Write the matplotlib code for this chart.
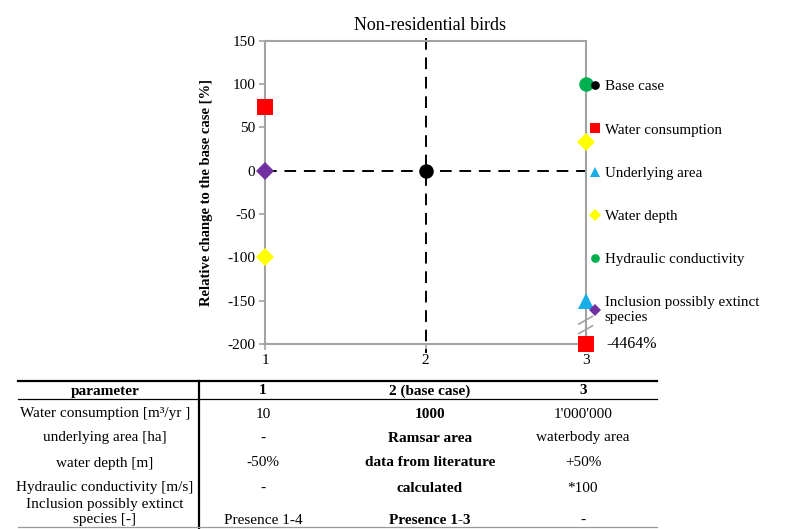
import numpy as np
import matplotlib
matplotlib.use("Agg")
import matplotlib.pyplot as plt
from matplotlib.lines import Line2D

plt.rcParams["font.family"] = ["Liberation Serif", "DejaVu Serif"]
plt.rcParams["axes.unicode_minus"] = False

# ---- data -------------------------------------------------------------
x_levels = [1, 2, 3]
series_names = [
    "Base case",
    "Water consumption",
    "Underlying area",
    "Water depth",
    "Hydraulic conductivity",
    "Inclusion possibly extinct\nspecies",
]
base_x = [2]
base_y = [0]
water_cons_x = [1, 3]
water_cons_y = [74, -4464]
area_x = [3]
area_y = [-150]
depth_x = [1, 3]
depth_y = [-100, 33]
hydr_x = [3]
hydr_y = [100]
extinct_x = [1]
extinct_y = [0]

y_ticks = [150, 100, 50, 0, -50, -100, -150, -200]

table_header = ["parameter", "1", "2 (base case)", "3"]
table_rows = [
    ["Water consumption [m\u00b3/yr ]", "10", "1000", "1'000'000"],
    ["underlying area [ha]", "-", "Ramsar area", "waterbody area"],
    ["water depth [m]", "-50%", "data from literature", "+50%"],
    ["Hydraulic conductivity [m/s]", "-", "calculated", "*100"],
    ["Inclusion possibly extinct\nspecies [-]", "Presence 1-4", "Presence 1-3", "-"],
]

# ---- figure -----------------------------------------------------------
W, H = 796, 529
fig = plt.figure(figsize=(W / 100, H / 100), dpi=100)


def fx(px):
    return px / W


def fy(py):
    return 1 - py / H


ax = fig.add_axes([fx(265), fy(344), fx(586) - fx(265), fy(40.7) - fy(344)])
ymin, ymax = min(y_ticks), max(y_ticks)
ax.set_xlim(min(x_levels), max(x_levels))
ax.set_ylim(ymin, ymax)

gray = "#a3a3a3"
for s in ax.spines.values():
    s.set_color(gray)
    s.set_linewidth(1.5)
ax.tick_params(axis="both", direction="out", color=gray, length=4, width=1.2,
               labelsize=11, pad=3)
ax.set_xticks(x_levels)
ax.set_yticks(y_ticks)

# reference cross through the base case
bx, by = base_x[0], base_y[0]
ax.plot([min(x_levels), max(x_levels)], [by, by], color="black", lw=1.4,
        dashes=(6, 4), zorder=2)
ax.plot([bx, bx], [ymax + 3.5, ymin - 10], color="black", lw=1.4,
        dashes=(6, 4), zorder=2, clip_on=False)

ms = 11
styles = [
    (base_x, base_y, "o", "black", ms * 0.95),
    (water_cons_x, water_cons_y, "s", "#ff0000", ms),
    (area_x, area_y, "^", "#1aaee8", ms),
    (depth_x, depth_y, "D", "#ffff00", ms * 0.85),
    (hydr_x, hydr_y, "o", "#00b050", ms * 0.95),
    (extinct_x, extinct_y, "D", "#7030a0", ms * 0.85),
]
handles = []
for (xs, ys, mk, col, size), name in zip(styles, series_names):
    shown = np.maximum(np.asarray(ys, dtype=float), ymin)
    h, = ax.plot(xs, shown, linestyle="none", marker=mk, color=col,
                 markersize=size, markeredgewidth=0, clip_on=False, zorder=4,
                 label=name)
    handles.append(h)

# value beyond the axis floor, with break marks
wc_val = water_cons_y[-1]
ax.annotate(f"{wc_val:.0f}%", xy=(water_cons_x[-1], ymin), xytext=(15, 0),
            textcoords="offset points", ha="left", va="center", fontsize=11.5)
for y0 in (-177, -188):
    ax.plot([2.955, 3.04], [y0, y0 + 9], color=gray, lw=1.2, clip_on=False,
            zorder=3)

ax.set_title("Non-residential birds", fontsize=13, pad=8)
ax.title.set_x(0.513)
ax.set_ylabel("Relative change to the base case [%]", fontsize=10.5,
              fontweight="bold")
ax.yaxis.set_label_coords(-0.162, 0.5)

fig.legend(handles=handles, loc="upper left",
           bbox_to_anchor=(fx(589), fy(80)), frameon=False,
           fontsize=10.8, labelspacing=1.98, handlelength=0.8,
           handletextpad=0.25, markerscale=0.6, borderpad=0,
           borderaxespad=0)

# ---- parameter table --------------------------------------------------
tl, tr = 18, 657
col_x = [105, 263, 430, 583]
fig.add_artist(Line2D([fx(tl), fx(tr)], [fy(381), fy(381)], color="black",
                      lw=1.6))
fig.add_artist(Line2D([fx(tl), fx(tr)], [fy(399), fy(399)], color="black",
                      lw=0.9))
fig.add_artist(Line2D([fx(199), fx(199)], [fy(381), fy(529)], color="black",
                      lw=1.6))
fig.add_artist(Line2D([fx(tl), fx(tr)], [fy(527), fy(527)], color="#9a9a9a",
                      lw=0.9))

fs = 11
for cx, txt in zip(col_x, table_header):
    fig.text(fx(cx), fy(391), txt, ha="center", va="center", fontsize=fs,
             fontweight="bold")

row_y = [414, 438, 463, 488]
for ry, row in zip(row_y, table_rows[:4]):
    for j, (cx, txt) in enumerate(zip(col_x, row)):
        fig.text(fx(cx), fy(ry), txt, ha="center", va="center", fontsize=fs,
                 fontweight="bold" if j == 2 else "normal")

last = table_rows[4]
fig.text(fx(col_x[0]), fy(512), last[0], ha="center", va="center",
         fontsize=fs, linespacing=1.25)
for j in range(1, 4):
    fig.text(fx(col_x[j]), fy(520), last[j], ha="center", va="center",
             fontsize=fs, fontweight="bold" if j == 2 else "normal")

fig.savefig("out.png", dpi=100)
